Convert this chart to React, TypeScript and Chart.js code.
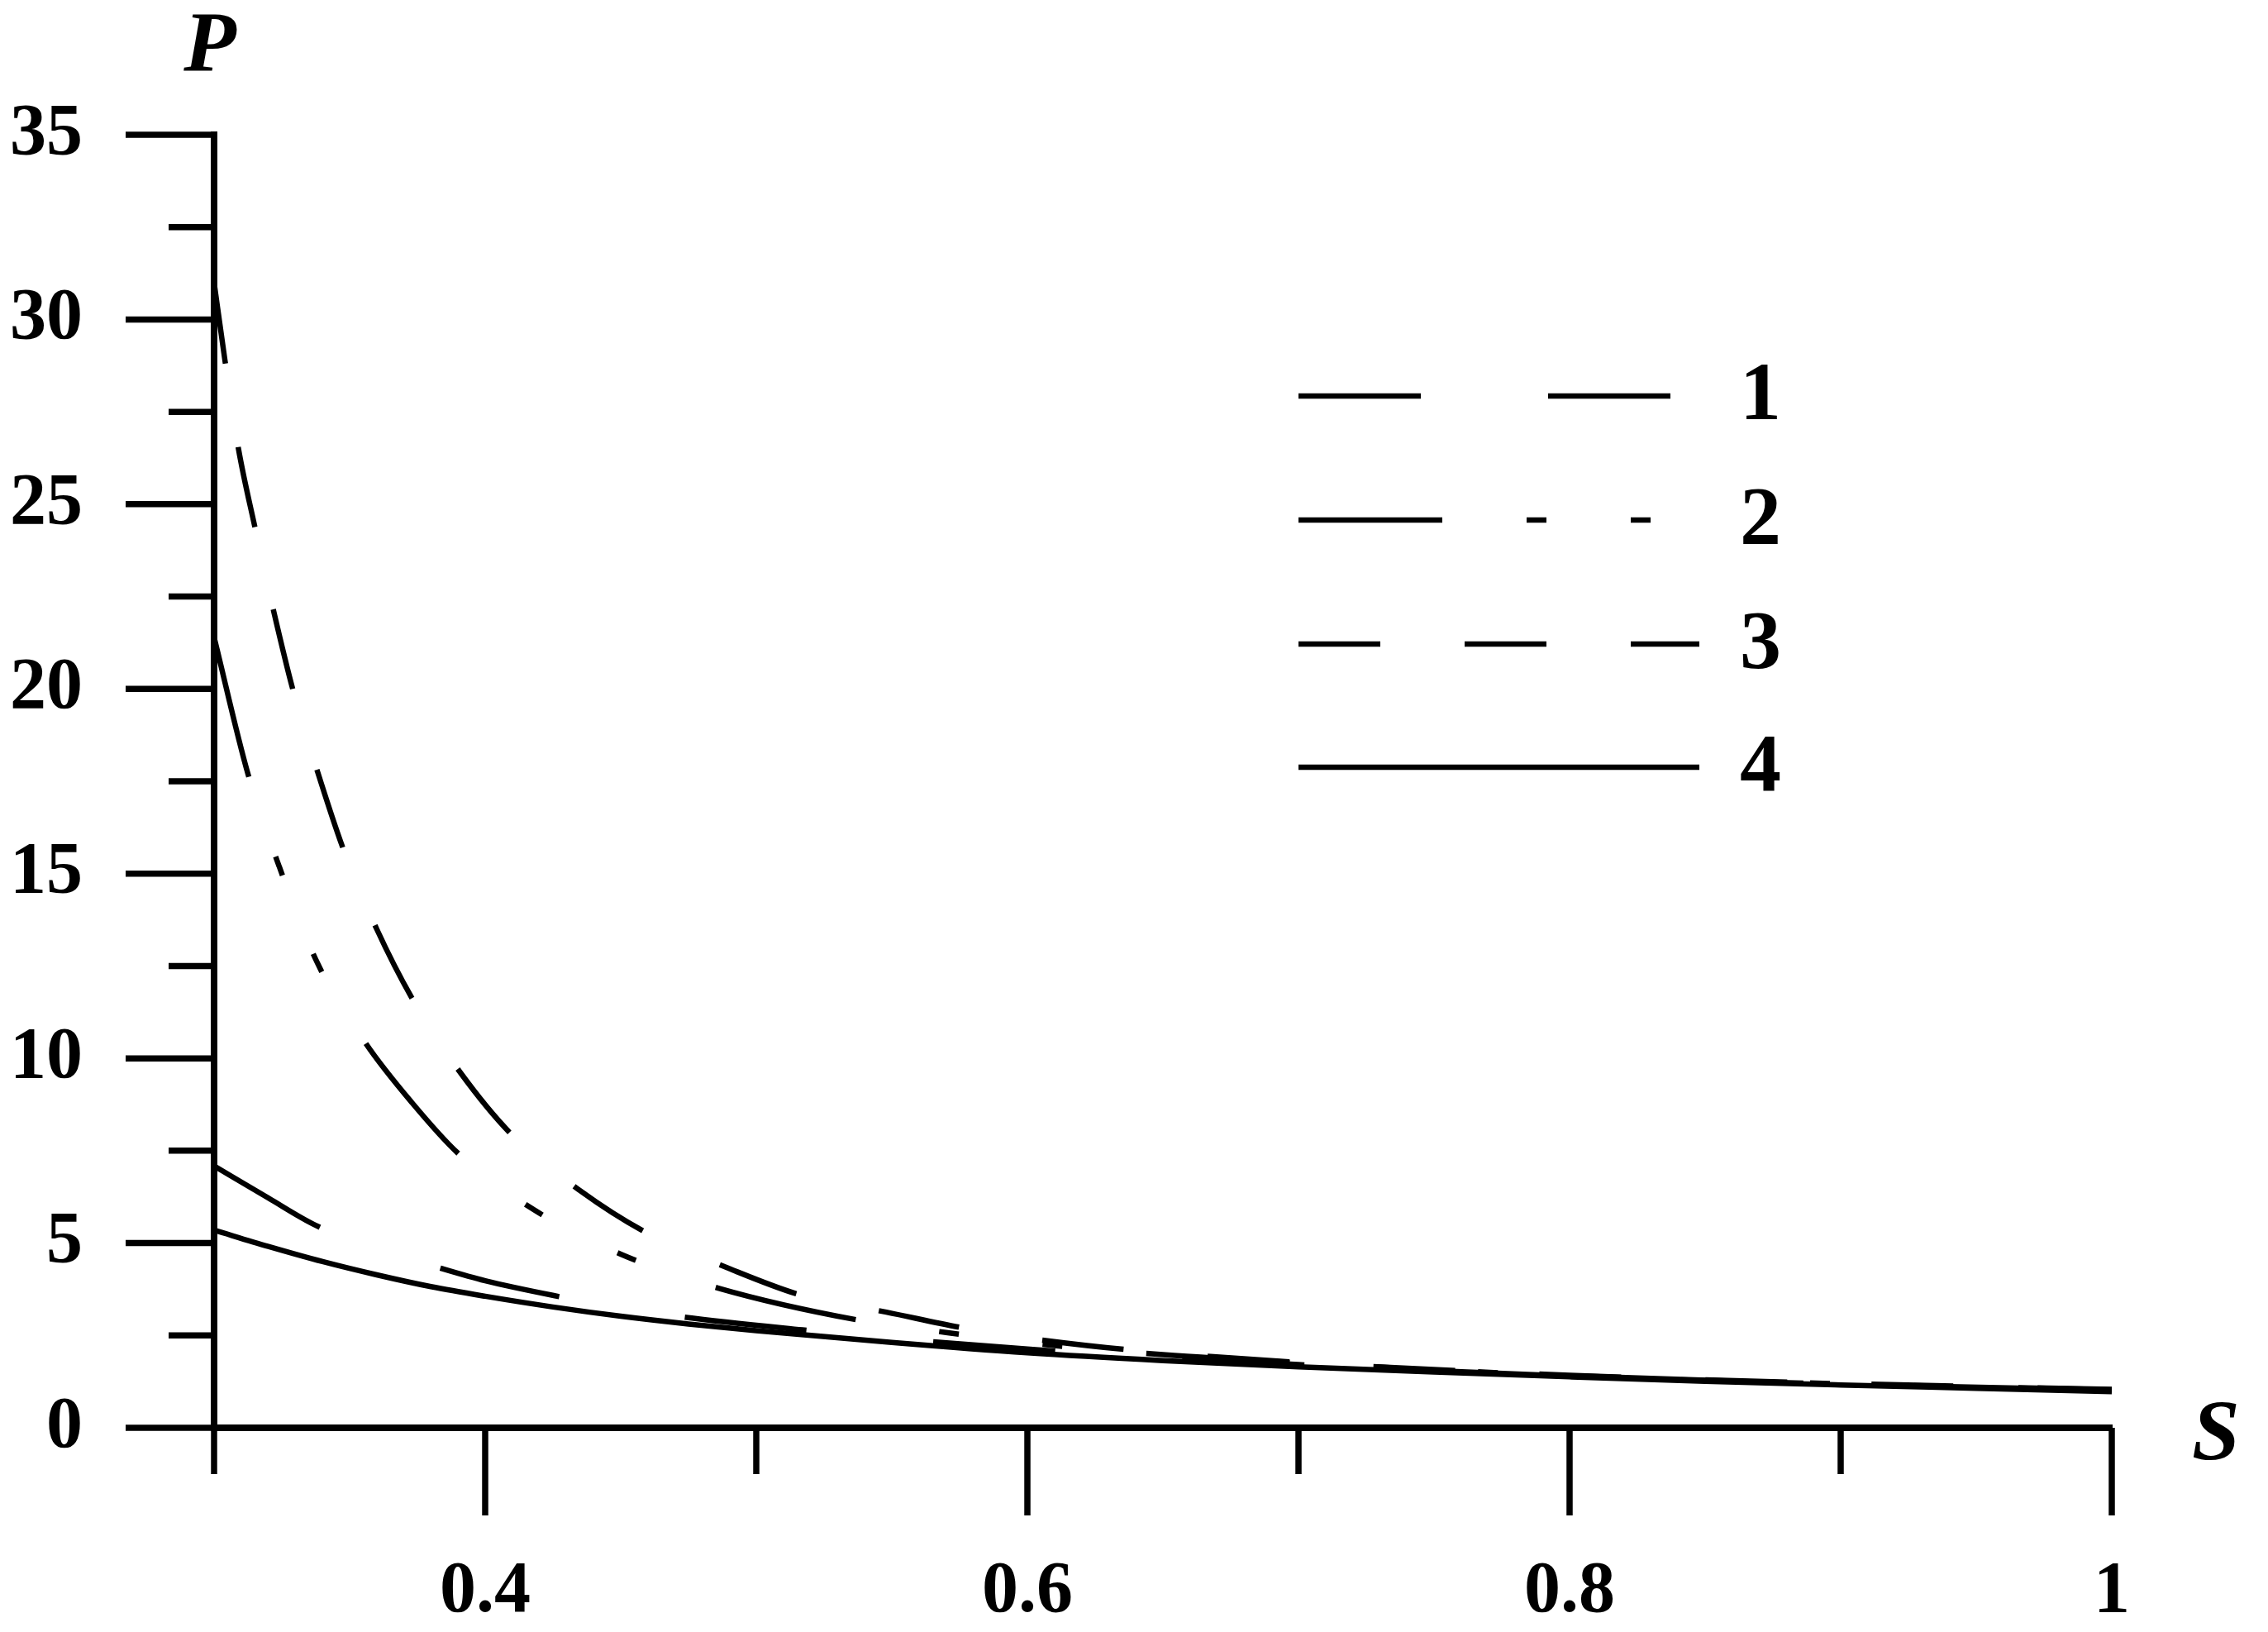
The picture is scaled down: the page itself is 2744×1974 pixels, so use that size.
import React, { useEffect, useRef } from 'react';
import { Chart, registerables } from 'chart.js';

Chart.register(...registerables);

// ---- data ----
// curve 1: long dashes, starts at P ≈ 7.1
const S1 = [0.300, 0.320, 0.3375, 0.360, 0.3826, 0.400, 0.4253, 0.450, 0.473, 0.517, 0.550, 0.600, 0.650, 0.700, 0.800, 0.900, 1.000];
const P1 = [7.09, 6.22, 5.48, 4.85, 4.34, 3.98, 3.58, 3.25, 3.00, 2.65, 2.42, 2.13, 1.90, 1.71, 1.40, 1.18, 1.02];
// curve 2: dash-dot-dot, starts at P ≈ 21.4
const S2 = [0.300, 0.3125, 0.324, 0.338, 0.356, 0.373, 0.390, 0.418, 0.450, 0.486, 0.538, 0.570, 0.600, 0.650, 0.700, 0.800, 0.900, 1.000];
const P2 = [21.4, 17.7, 15.2, 12.6, 10.4, 8.8, 7.43, 5.9, 4.70, 3.78, 2.91, 2.58, 2.30, 1.98, 1.76, 1.41, 1.19, 1.03];
// curve 3: short dashes, starts at P ≈ 31
const S3 = [0.300, 0.304, 0.309, 0.315, 0.322, 0.329, 0.338, 0.348, 0.360, 0.374, 0.391, 0.410, 0.435, 0.460, 0.489, 0.517, 0.548, 0.578, 0.608, 0.639, 0.700, 0.800, 0.900, 1.000];
const P3 = [31.0, 28.9, 26.5, 24.4, 22.1, 20.0, 17.8, 15.6, 13.5, 11.5, 9.6, 7.92, 6.42, 5.26, 4.34, 3.58, 3.13, 2.68, 2.35, 2.10, 1.77, 1.42, 1.20, 1.04];
// curve 4: solid
const S4 = [0.30, 0.32, 0.34, 0.36, 0.38, 0.40, 0.425, 0.45, 0.475, 0.50, 0.55, 0.60, 0.65, 0.70, 0.75, 0.80, 0.85, 0.90, 0.95, 1.00];
const P4 = [5.35, 4.91, 4.50, 4.14, 3.82, 3.56, 3.27, 3.02, 2.81, 2.63, 2.31, 2.03, 1.82, 1.65, 1.51, 1.38, 1.26, 1.16, 1.07, 0.98];

const SERIES_LABELS = ['1', '2', '3', '4'];
const SERIES_DASHES: number[][] = [[148, 154], [174, 102, 24, 102, 24, 102], [99, 102], []];

const X_TICKS = [0.3, 0.4, 0.5, 0.6, 0.7, 0.8, 0.9, 1.0];
const X_LABELED = [0.4, 0.6, 0.8, 1.0];
const X_LABEL_TEXT = ['0.4', '0.6', '0.8', '1'];
const Y_TICKS = [0, 2.5, 5, 7.5, 10, 12.5, 15, 17.5, 20, 22.5, 25, 27.5, 30, 32.5, 35];
const Y_LABELED = [0, 5, 10, 15, 20, 25, 30, 35];
const Y_LABEL_TEXT = ['0', '5', '10', '15', '20', '25', '30', '35'];

const X_TITLE = 'S';
const Y_TITLE = 'P';

const FONT = '"Liberation Serif", "Times New Roman", serif';

function pts(xs: number[], ys: number[]) {
  return xs.map((x, i) => ({ x, y: ys[i] }));
}

const near = (a: number, b: number) => Math.abs(a - b) < 1e-6;

const decorPlugin = {
  id: 'decor',
  afterDraw(chart: any) {
    const ctx = chart.ctx as CanvasRenderingContext2D;
    const xs = chart.scales.x;
    const ys = chart.scales.y;
    const axisY = ys.getPixelForValue(0);
    const axisX = xs.getPixelForValue(0.3);
    ctx.save();
    ctx.strokeStyle = '#000';
    ctx.lineCap = 'butt';
    ctx.lineWidth = 7.5;
    ctx.setLineDash([]);
    // x ticks (downwards)
    X_TICKS.forEach((v) => {
      const px = xs.getPixelForValue(v);
      const major = X_LABELED.some((t) => near(t, v));
      ctx.beginPath();
      ctx.moveTo(px, axisY);
      ctx.lineTo(px, axisY + (major ? 106 : 56));
      ctx.stroke();
    });
    // y ticks (leftwards)
    Y_TICKS.forEach((v) => {
      const py = ys.getPixelForValue(v);
      const major = Y_LABELED.some((t) => near(t, v));
      ctx.beginPath();
      ctx.moveTo(axisX, py);
      ctx.lineTo(axisX - (major ? 107 : 55), py);
      ctx.stroke();
    });

    // axis titles
    ctx.fillStyle = '#000';
    ctx.font = `italic bold 104px ${FONT}`;
    ctx.textAlign = 'center';
    ctx.textBaseline = 'alphabetic';
    ctx.fillText(Y_TITLE, axisX - 5, 86);
    ctx.fillText(X_TITLE, xs.right + 126, axisY + 38);

    // legend
    const lx0 = 1571;
    const lx1 = 2056;
    const rowY = [479, 629, 779, 928];
    ctx.lineWidth = 6.5;
    SERIES_LABELS.forEach((lab, i) => {
      ctx.setLineDash(SERIES_DASHES[i]);
      ctx.beginPath();
      ctx.moveTo(lx0, rowY[i]);
      ctx.lineTo(lx1, rowY[i]);
      ctx.stroke();
      ctx.setLineDash([]);
      ctx.font = `bold 100px ${FONT}`;
      ctx.textAlign = 'center';
      ctx.textBaseline = 'middle';
      ctx.fillText(lab, 2130, rowY[i] + 2);
    });
    ctx.restore();
  },
};

export default function App() {
  const ref = useRef<HTMLCanvasElement | null>(null);

  useEffect(() => {
    if (!ref.current) return;
    const series = [
      { s: S1, p: P1 },
      { s: S2, p: P2 },
      { s: S3, p: P3 },
      { s: S4, p: P4 },
    ];
    const chart = new Chart(ref.current, {
      type: 'line',
      data: {
        datasets: series.map((d, i) => ({
          label: SERIES_LABELS[i],
          data: pts(d.s, d.p),
          borderColor: '#000',
          borderWidth: 6.5,
          borderDash: SERIES_DASHES[i],
          borderCapStyle: 'butt' as const,
          pointRadius: 0,
          fill: false,
          cubicInterpolationMode: 'monotone' as const,
        })),
      },
      options: {
        animation: false,
        responsive: true,
        maintainAspectRatio: false,
        devicePixelRatio: 1,
        layout: { padding: { top: 163, right: 189, bottom: 0, left: 0 } },
        plugins: {
          legend: { display: false },
          tooltip: { enabled: false },
          title: { display: false },
        },
        events: [],
        scales: {
          x: {
            type: 'linear',
            position: 'bottom',
            min: 0.3,
            max: 1.0,
            afterFit: (scale: any) => {
              scale.height = 247;
              scale.paddingLeft = 0;
              scale.paddingRight = 0;
            },
            grid: { display: false, drawTicks: false },
            border: { display: true, color: '#000', width: 8 },
            ticks: {
              stepSize: 0.1,
              autoSkip: false,
              maxRotation: 0,
              minRotation: 0,
              padding: 146,
              color: '#000',
              font: { family: FONT, size: 88, weight: 'bold' },
              callback: (v: any) => {
                const idx = X_LABELED.findIndex((t) => near(t, Number(v)));
                return idx >= 0 ? X_LABEL_TEXT[idx] : '';
              },
            },
          },
          y: {
            type: 'linear',
            position: 'left',
            min: 0,
            max: 35,
            afterFit: (scale: any) => {
              scale.width = 259;
              scale.paddingTop = 0;
              scale.paddingBottom = 0;
            },
            grid: { display: false, drawTicks: false },
            border: { display: true, color: '#000', width: 8 },
            ticks: {
              stepSize: 2.5,
              autoSkip: false,
              padding: 159,
              color: '#000',
              font: { family: FONT, size: 88, weight: 'bold' },
              callback: (v: any) => {
                const idx = Y_LABELED.findIndex((t) => near(t, Number(v)));
                return idx >= 0 ? Y_LABEL_TEXT[idx] : '';
              },
            },
          },
        },
      } as any,
      plugins: [decorPlugin],
    });
    return () => chart.destroy();
  }, []);

  return (
    <div
      style={{
        position: 'fixed',
        left: 0,
        top: 0,
        width: 2744,
        height: 1974,
        background: '#fff',
      }}
    >
      <canvas ref={ref} />
    </div>
  );
}
